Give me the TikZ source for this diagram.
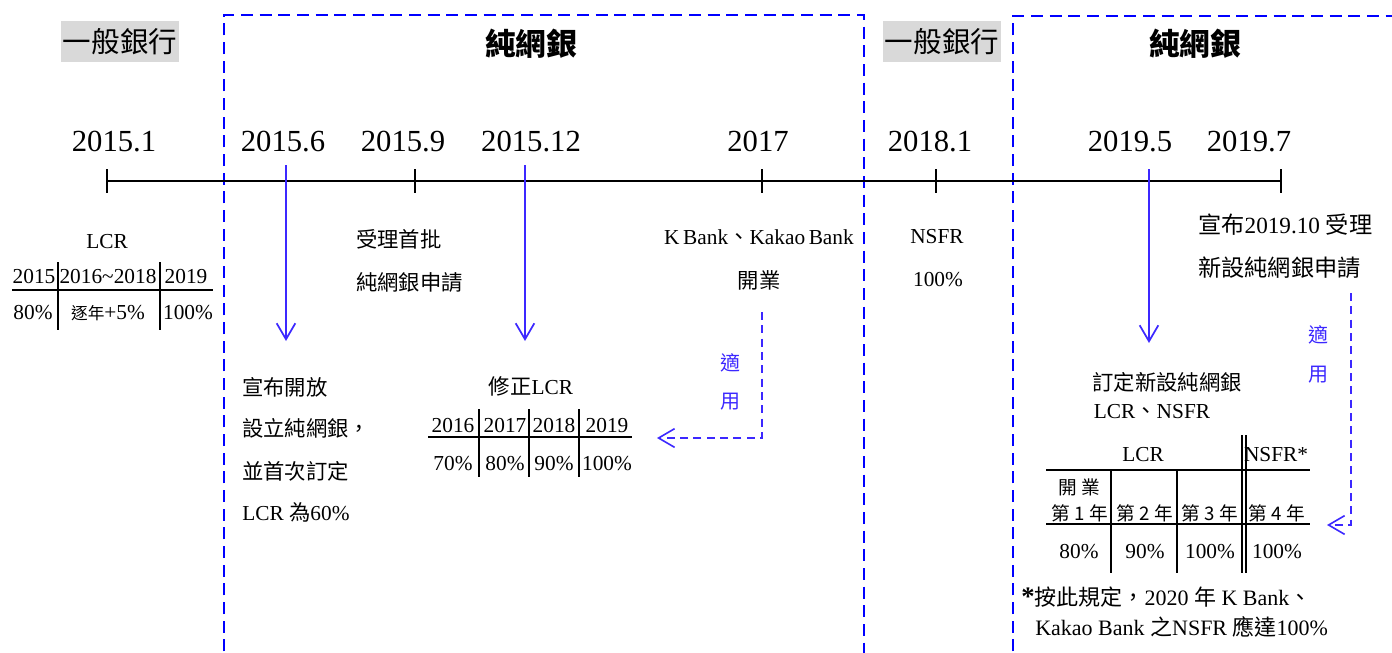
\documentclass[tikz,border=0pt]{standalone}
\usepackage{fontspec}
\setmainfont{Liberation Serif}
\newfontfamily\cjk{Noto Sans CJK TC}
\usetikzlibrary{arrows.meta}
\definecolor{boxblue}{RGB}{0,0,255}
\definecolor{evblue}{RGB}{60,40,255}
\definecolor{bandgray}{RGB}{217,217,217}
\newcommand{\zh}[1]{{\cjk #1}}
\newcommand{\fsz}[1]{\fontsize{#1}{#1}\selectfont}
\tikzset{
  txt/.style={inner sep=0pt, font=\fsz{16}},
  txtl/.style={txt, anchor=west},
  yr/.style={inner sep=0pt, anchor=base, font=\fsz{23}},
  band/.style={fill=bandgray, inner sep=0pt, minimum width=88.5pt, minimum height=30.75pt, font=\cjk\fsz{21.4}},
  title/.style={inner sep=0pt, font=\cjk\bfseries\fsz{23}},
  dbox/.style={draw=boxblue, line width=1.5pt, dash pattern=on 9pt off 5pt},
  axis/.style={line width=1.4pt},
  evt/.style={draw=evblue, line width=1.3pt, -{Straight Barb[length=12pt,width=14pt]}},
  apply/.style={draw=evblue, line width=1.2pt, dash pattern=on 6pt off 4pt, -{Straight Barb[length=12pt,width=14pt]}},
  aptxt/.style={inner sep=0pt, text=evblue, font=\cjk\fsz{15}},
  tbl/.style={line width=1.4pt},
  small/.style={inner sep=0pt, font=\cjk\fsz{14}}
}
\begin{document}
\begin{tikzpicture}[x=0.75pt,y=-0.75pt]
\useasboundingbox (0,0) rectangle (1392,653);
\clip (0,0) rectangle (1392,653);

% dashed period frames
\draw[dbox] (224,670) -- (224,15) -- (864,15) -- (864,670);
\draw[dbox] (1013,670) -- (1013,16) -- (1410,16);

% period headers
\node[band] (gb1) at (120,41.5) {一般銀行};
\node[band] (gb2) at (942,41.5) {一般銀行};
\node[title] (tt1) at (531,44) {純網銀};
\node[title] (tt2) at (1195,44) {純網銀};

% timeline
\coordinate (ax0) at (107,181);
\coordinate (ax1) at (1281,181);
\draw[axis] (ax0) -- (ax1);
\foreach \xx/\nm in {107/k0,415/k1,762/k2,936/k3,1281/k4}{
  \coordinate (\nm a) at (\xx,169);
  \coordinate (\nm b) at (\xx,193);
  \draw[axis] (\nm a) -- (\nm b);
}

% year labels
\node[yr] (y1) at (114,151) {2015.1};
\node[yr] (y2) at (283,151) {2015.6};
\node[yr] (y3) at (403,151) {2015.9};
\node[yr] (y4) at (531,151) {2015.12};
\node[yr] (y5) at (758,151) {2017};
\node[yr] (y6) at (930,151) {2018.1};
\node[yr] (y7) at (1130,151) {2019.5};
\node[yr] (y8) at (1249,151) {2019.7};

% event arrows
\coordinate (e1a) at (286,165); \coordinate (e1b) at (286,341);
\coordinate (e2a) at (525,165); \coordinate (e2b) at (525,341);
\coordinate (e3a) at (1149,169); \coordinate (e3b) at (1149,343);
\draw[evt] (e1a) -- (e1b);
\draw[evt] (e2a) -- (e2b);
\draw[evt] (e3a) -- (e3b);

% 2015.1 LCR table
\node[txt] (lcr1) at (107,242) {LCR};
\node[txt] (a11) at (34,277) {2015};
\node[txt] (a12) at (108,277) {2016\textasciitilde2018};
\node[txt] (a13) at (186,277) {2019};
\node[txt] (a21) at (33,313) {80\%};
\node[txt] (a22) at (108,313) {{\cjk\fsz{12.5}逐年}+5\%};
\node[txt] (a23) at (188,313) {100\%};
\draw[tbl] (12,290) -- (213,290);
\draw[tbl] (58,262) -- (58,330);
\draw[tbl] (160,262) -- (160,330);

% 2015.6
\node[txtl] (p1) at (242,387) {\zh{宣布開放}};
\node[txtl] (p2) at (242,428) {\zh{設立純網銀，}};
\node[txtl] (p3) at (242,471) {\zh{並首次訂定}};
\node[txtl] (p4) at (242,512) {LCR \zh{為}60\%};

% 2015.9
\node[txtl] (q1) at (356,239) {\zh{受理首批}};
\node[txtl] (q2) at (356,282) {\zh{純網銀申請}};

% 2015.12 table
\node[txt] (r0) at (531,386) {\zh{修正}LCR};
\node[txt] (b11) at (453,426) {2016};
\node[txt] (b12) at (505,426) {2017};
\node[txt] (b13) at (554,426) {2018};
\node[txt] (b14) at (607,426) {2019};
\node[txt] (b21) at (453,464) {70\%};
\node[txt] (b22) at (505,464) {80\%};
\node[txt] (b23) at (554,464) {90\%};
\node[txt] (b24) at (607,464) {100\%};
\draw[tbl] (428,437) -- (632,437);
\draw[tbl] (479,409) -- (479,477);
\draw[tbl] (529,409) -- (529,477);
\draw[tbl] (579,409) -- (579,477);

% 2017
\node[txt] (s1) at (759,237) {K\,Bank\zh{、}Kakao\,Bank};
\node[txt] (s2) at (759,280) {\zh{開業}};
\coordinate (f1a) at (762,312);
\coordinate (f1b) at (657,438);
\draw[apply] (f1a) |- (f1b);
\node[aptxt] (f1t1) at (730,363) {適};
\node[aptxt] (f1t2) at (730,402) {用};

% 2018.1
\node[txt] (u1) at (937,237) {NSFR};
\node[txt] (u2) at (938,280) {100\%};

% 2019.7
\node[txtl,font=\fsz{17.4}] (v1) at (1198,225) {\zh{宣布}2019.10 \zh{受理}};
\node[txtl,font=\fsz{17.4}] (v2) at (1198,268) {\zh{新設純網銀申請}};
\coordinate (f2a) at (1351,293);
\coordinate (f2b) at (1327,525);
\draw[apply] (f2a) |- (f2b);
\node[aptxt] (f2t1) at (1318,335) {適};
\node[aptxt] (f2t2) at (1318,375) {用};

% 2019.5 table
\node[txt] (w1) at (1167,382) {\zh{訂定新設純網銀}};
\node[txt] (w2) at (1152,412) {LCR\zh{、}NSFR};
\node[txt] (c0a) at (1143,455) {LCR};
\node[txt] (c0b) at (1276,455) {NSFR*};
\node[small] (c10) at (1079,487) {開 業};
\node[small] (c11) at (1080,513) {第\ 1\ 年};
\node[small] (c12) at (1145,513) {第\ 2\ 年};
\node[small] (c13) at (1210,513) {第\ 3\ 年};
\node[small] (c14) at (1277,513) {第\ 4\ 年};
\node[txt] (c21) at (1079,552) {80\%};
\node[txt] (c22) at (1145,552) {90\%};
\node[txt] (c23) at (1210,552) {100\%};
\node[txt] (c24) at (1277,552) {100\%};
\draw[tbl] (1046,470) -- (1310,470);
\draw[tbl] (1046,524) -- (1310,524);
\draw[tbl] (1111,470) -- (1111,573);
\draw[tbl] (1177,470) -- (1177,573);
\draw[line width=1.1pt] (1242,435) -- (1242,573);
\draw[line width=1.1pt] (1246,435) -- (1246,573);

% footnote
\node[txtl,font=\fsz{16.5}] (n1) at (1021,597) {{\fsz{20}\bfseries *}\zh{按此規定，}2020 \zh{年} K Bank\zh{、}};
\node[txtl,font=\fsz{16.5}] (n2) at (1035,627) {Kakao Bank \zh{之}NSFR \zh{應達}100\%};
\end{tikzpicture}
\end{document}
